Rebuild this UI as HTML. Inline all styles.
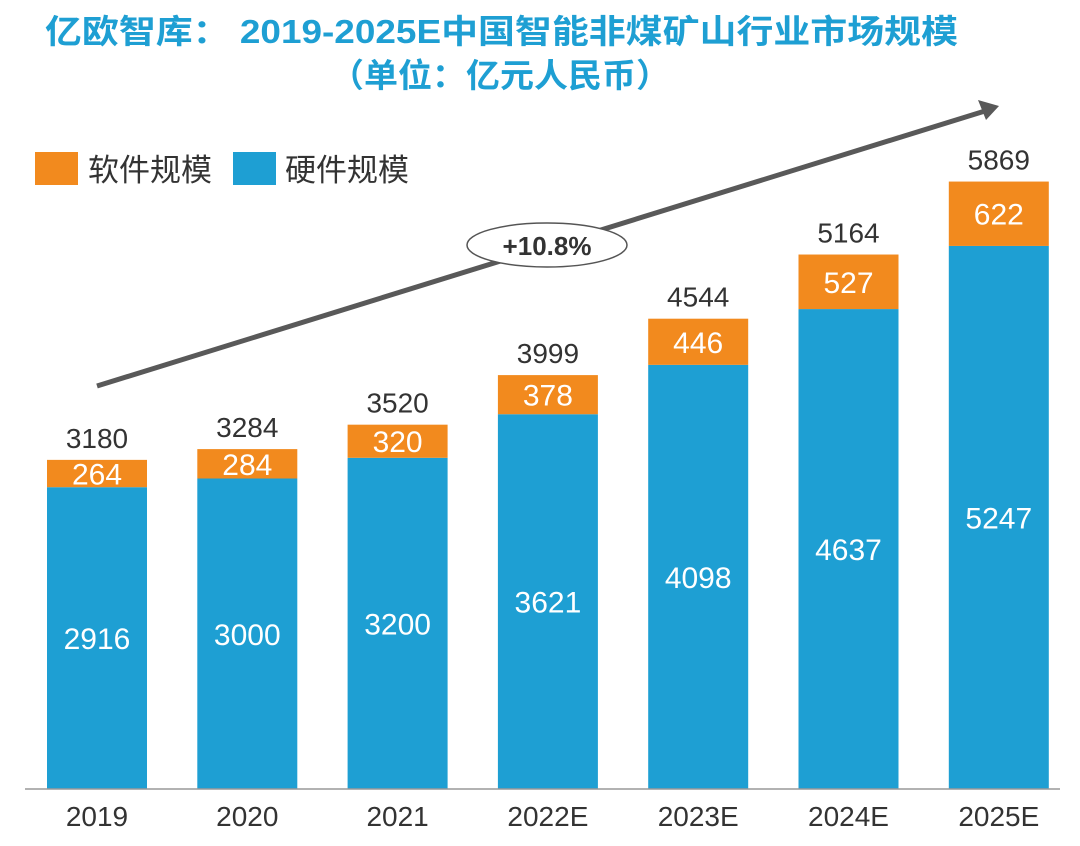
<!DOCTYPE html>
<html><head><meta charset="utf-8"><style>
body{margin:0;background:#fff;}
svg{display:block;font-family:"Liberation Sans","Noto Sans CJK SC",sans-serif;}
</style></head><body>
<svg id="chart" width="1080" height="846" viewBox="0 0 1080 846">
<text x="45" y="43" font-size="33" font-weight="bold" fill="#1E9FD3" textLength="913" lengthAdjust="spacingAndGlyphs">亿欧智库： 2019-2025E中国智能非煤矿山行业市场规模</text>
<text x="330" y="87" font-size="33" font-weight="bold" fill="#1E9FD3" textLength="340" lengthAdjust="spacingAndGlyphs">（单位：亿元人民币）</text>
<rect x="35" y="152" width="43" height="33" fill="#F28A1E"/>
<text x="88" y="181" font-size="31" fill="#333">软件规模</text>
<rect x="233" y="152" width="43" height="33" fill="#1E9FD3"/>
<text x="285" y="181" font-size="31" fill="#333">硬件规模</text>
<g id="bars"></g>
<line x1="25" y1="789" x2="1060" y2="789" stroke="#999" stroke-width="1.5"/>
<line x1="97" y1="386" x2="985" y2="111" stroke="#595959" stroke-width="5"/>
<polygon points="999,106 978,100 986,120" fill="#595959"/>
<ellipse cx="547" cy="245" rx="80" ry="22" fill="#fff" stroke="#555" stroke-width="1.5"/>
<text x="547" y="255" font-size="26" font-weight="bold" fill="#333" text-anchor="middle">+10.8%</text>
</svg>
<script>
const categories=["2019","2020","2021","2022E","2023E","2024E","2025E"];
const hardware=[2916,3000,3200,3621,4098,4637,5247];
const software=[264,284,320,378,446,527,622];
const totals=[3180,3284,3520,3999,4544,5164,5869];
const NS="http://www.w3.org/2000/svg";
const base=789,scale=0.1035;
function y(v){return base-v*scale;}
function xc(i){return 97+i*150.3;}
const g=document.getElementById('bars');
function mk(tag,attrs,txt){const e=document.createElementNS(NS,tag);for(const k in attrs)e.setAttribute(k,attrs[k]);if(txt!==undefined)e.textContent=txt;g.appendChild(e);return e;}
categories.forEach((c,i)=>{
 const x=xc(i),h=hardware[i],s=software[i];
 let e=mk('rect',{x:x-50,y:y(h),width:100,height:h*scale,fill:'#1E9FD3'});
 
 
 e=mk('rect',{x:x-50,y:y(h+s),width:100,height:s*scale,fill:'#F28A1E'});
 
 
 e=mk('text',{x:x,y:(y(h)+base)/2+11,'font-size':30,fill:'#fff','text-anchor':'middle'},h);
 
 
 e=mk('text',{x:x,y:(y(h)+y(h+s))/2+11,'font-size':30,fill:'#fff','text-anchor':'middle'},s);
 
 
 e=mk('text',{x:x,y:y(totals[i])-12,'font-size':28,fill:'#333','text-anchor':'middle'},totals[i]);
 
 
 e=mk('text',{x:x,y:826,'font-size':28,fill:'#333','text-anchor':'middle'},c);
 
 
});
</script>
</body></html>
